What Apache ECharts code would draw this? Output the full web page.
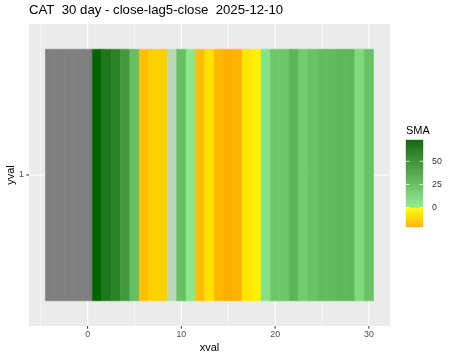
<!DOCTYPE html>
<html><head><meta charset="utf-8">
<script src="https://cdn.jsdelivr.net/npm/echarts@6/dist/echarts.min.js"></script>
<style>html,body{margin:0;padding:0;background:#fff}#c{width:450px;height:360px}</style>
</head><body><div id="c"></div>
<script>
// ---- data ----
const xvals = [-4,-3,-2,-1,0,1,2,3,4,5,6,7,8,9,10,11,12,13,14,15,16,17,18,19,20,21,22,23,24,25,26,27,28,29,30];
const yvals = [1];
const sma = [null,null,null,null,null,73,62,56,44,24,-17,-12.5,-12.5,1,23,3,-17,-8,-19,-21,-20,-7,-4,6,20,20,29,17,22,26,26,28,28,10,22];
const xTicks = [0,10,20,30];
const xMinor = [-5,5,15,25];
const legendTicks = [0,25,50];
const titleText = 'CAT  30 day - close-lag5-close  2025-12-10';

// ---- colour scale (Lab interpolation like ggplot) ----
function s2l(c){c/=255;return c<=0.04045?c/12.92:Math.pow((c+0.055)/1.055,2.4);}
function l2s(c){c=c<=0.0031308?12.92*c:1.055*Math.pow(c,1/2.4)-0.055;return Math.round(Math.max(0,Math.min(1,c))*255);}
function hex2lab(h){const r=s2l(parseInt(h.substr(1,2),16)),g=s2l(parseInt(h.substr(3,2),16)),b=s2l(parseInt(h.substr(5,2),16));
 const X=(0.4124*r+0.3576*g+0.1805*b)/0.95047,Y=0.2126*r+0.7152*g+0.0722*b,Z=(0.0193*r+0.1192*g+0.9505*b)/1.08883;
 const f=t=>t>0.008856?Math.cbrt(t):7.787*t+16/116;const fx=f(X),fy=f(Y),fz=f(Z);
 return [116*fy-16,500*(fx-fy),200*(fy-fz)];}
function lab2hex(L){const fy=(L[0]+16)/116,fx=fy+L[1]/500,fz=fy-L[2]/200;
 const fi=t=>{const t3=t*t*t;return t3>0.008856?t3:(t-16/116)/7.787;};
 const X=fi(fx)*0.95047,Y=fi(fy),Z=fi(fz)*1.08883;
 const r=3.2406*X-1.5372*Y-0.4986*Z,g=-0.9689*X+1.8758*Y+0.0415*Z,b=0.0557*X-0.2040*Y+1.0570*Z;
 return 'rgb('+l2s(r)+','+l2s(g)+','+l2s(b)+')';}
const vals = sma.filter(v=>v!==null);
const vmin = Math.min(...vals), vmax = Math.max(...vals);
const stops = [[vmin,'#FFAF00'],[-0.01,'#FFFF00'],[0,'#90EE90'],[vmax,'#006400']].map(s=>[s[0],hex2lab(s[1])]);
function scaleColor(v){
 if(v===null||isNaN(v)) return '#7F7F7F';
 if(v<=stops[0][0]) return lab2hex(stops[0][1]);
 for(let i=1;i<stops.length;i++){ if(v<=stops[i][0]){const a=stops[i-1],b=stops[i];const t=(v-a[0])/(b[0]-a[0]);
   return lab2hex([0,1,2].map(k=>a[1][k]+(b[1][k]-a[1][k])*t));}}
 return lab2hex(stops[stops.length-1][1]);
}
const styleOverride = {9:'#B8D8B8'};

const XMIN=-6.25, XMAX=32.25, YMIN=0.4, YMAX=1.6;
const tileData = xvals.map((x,i)=>[x, yvals[0], sma[i]===null?NaN:sma[i]]);
const barSteps = [];
const nSteps = 120;
for(let i=0;i<nSteps;i++){ barSteps.push([vmin+(vmax-vmin)*i/nSteps, vmin+(vmax-vmin)*(i+1)/nSteps]); }

const chart = echarts.init(document.getElementById('c'), null, {renderer:'canvas'});
const FONT = '"Liberation Sans", Arial, sans-serif';
chart.setOption({
 animation:false,
 backgroundColor:'#ffffff',
 textStyle:{fontFamily:FONT},
 title:[
  {text:titleText,left:29,top:4,padding:0,textStyle:{fontSize:13.2,fontWeight:'normal',color:'#000',fontFamily:FONT}},
  {text:'SMA',left:406,top:125,padding:0,textStyle:{fontSize:11,fontWeight:'normal',color:'#000',fontFamily:FONT}}
 ],
 grid:[
  {left:29,right:60,top:24,bottom:34,show:true,backgroundColor:'#EBEBEB',borderWidth:0,containLabel:false,outerBoundsMode:'none'},
  {left:406,top:140,width:17,height:87,show:false,containLabel:false,outerBoundsMode:'none'}
 ],
 xAxis:[
  {type:'value',gridIndex:0,min:XMIN,max:XMAX,
   name:'xval',nameLocation:'middle',nameGap:16,nameMoveOverlap:false,nameTextStyle:{fontSize:11,color:'#000'},
   axisLine:{show:false},splitLine:{show:false},axisTick:{show:false},
   axisLabel:{customValues:xTicks,fontSize:8.8,color:'#4D4D4D',margin:4.5}},
  {type:'value',gridIndex:1,min:0,max:1,show:false}
 ],
 yAxis:[
  {type:'value',gridIndex:0,min:YMIN,max:YMAX,
   name:'yval',nameLocation:'middle',nameGap:13,nameMoveOverlap:false,nameTextStyle:{fontSize:11,color:'#000'},
   axisLine:{show:false},splitLine:{show:false},axisTick:{show:false},
   axisLabel:{customValues:yvals,fontSize:8.8,color:'#4D4D4D',margin:5}},
  {type:'value',gridIndex:1,min:vmin,max:vmax,position:'right',
   axisLine:{show:false},splitLine:{show:false},axisTick:{show:false},
   axisLabel:{customValues:legendTicks,fontSize:8.8,color:'#333',margin:9}}
 ],
 series:[
  {type:'custom',name:'grid',xAxisIndex:0,yAxisIndex:0,z:1,silent:true,
   data:xMinor.map(v=>[v,0]).concat(xTicks.map(v=>[v,1])).concat(yvals.map(v=>[v,2])),
   renderItem:function(p,api){
     const v=api.value(0),k=api.value(1);
     let a,b;
     if(k===2){a=api.coord([XMIN,v]);b=api.coord([XMAX,v]);}
     else{a=api.coord([v,YMIN]);b=api.coord([v,YMAX]);}
     return {type:'line',shape:{x1:a[0],y1:a[1],x2:b[0],y2:b[1]},style:{stroke:'#FFFFFF',lineWidth:k===0?0.55:1.1}};
   }},
  {type:'custom',name:'axisTicks',xAxisIndex:0,yAxisIndex:0,z:1,silent:true,clip:false,
   data:xTicks.map(v=>[v,0]).concat(yvals.map(v=>[v,1])),
   renderItem:function(p,api){
     const v=api.value(0),k=api.value(1);
     if(k===1){const a=api.coord([XMIN,v]);return {type:'line',shape:{x1:a[0]-2.7,y1:a[1],x2:a[0],y2:a[1]},style:{stroke:'#333',lineWidth:1}};}
     const a=api.coord([v,YMIN]);return {type:'line',shape:{x1:a[0],y1:a[1],x2:a[0],y2:a[1]+2.7},style:{stroke:'#333',lineWidth:1}};
   }},
  {type:'custom',name:'tiles',xAxisIndex:0,yAxisIndex:0,z:2,silent:true,
   data:tileData,
   renderItem:function(p,api){
     const i=p.dataIndex;const x=xvals[i],y=yvals[0],v=sma[i];
     const p0=api.coord([x-0.5,y+0.5]),p1=api.coord([x+0.5,y-0.5]);
     const col = styleOverride[x]!==undefined?styleOverride[x]:scaleColor(v);
     return {type:'rect',shape:{x:p0[0],y:p0[1],width:p1[0]-p0[0],height:p1[1]-p0[1]},style:{fill:col,stroke:col,lineWidth:0.5}};
   }},
  {type:'custom',name:'colorbar',xAxisIndex:1,yAxisIndex:1,z:2,silent:true,
   data:barSteps,
   renderItem:function(p,api){
     const s=barSteps[p.dataIndex];
     const a=api.coord([0,s[1]]),b=api.coord([1,s[0]]);
     const col=scaleColor((s[0]+s[1])/2);
     return {type:'rect',shape:{x:a[0],y:a[1],width:b[0]-a[0],height:b[1]-a[1]},style:{fill:col,stroke:col,lineWidth:0.4}};
   }},
  {type:'custom',name:'colorbarTicks',xAxisIndex:1,yAxisIndex:1,z:3,silent:true,
   data:legendTicks.map(v=>[0,v]),
   renderItem:function(p,api){
     const v=legendTicks[p.dataIndex];
     const a=api.coord([0,v]),b=api.coord([1,v]);const len=(b[0]-a[0])/5;
     return {type:'group',children:[
       {type:'line',shape:{x1:a[0],y1:a[1],x2:a[0]+len,y2:a[1]},style:{stroke:'#fff',lineWidth:0.8}},
       {type:'line',shape:{x1:b[0]-len,y1:b[1],x2:b[0],y2:b[1]},style:{stroke:'#fff',lineWidth:0.8}}]};
   }}
 ]
});
</script></body></html>
